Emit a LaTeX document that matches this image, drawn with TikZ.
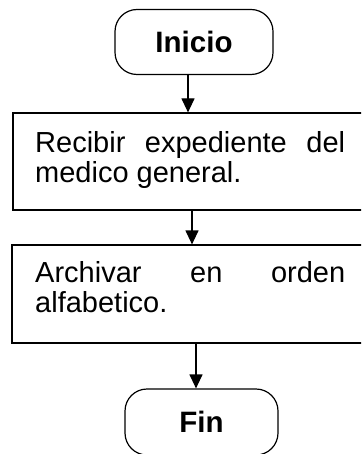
\documentclass[tikz,border=0pt]{standalone}
\usepackage{fontspec}
\setmainfont{Liberation Sans}
\usetikzlibrary{arrows.meta}
\hyphenpenalty=10000
\exhyphenpenalty=10000
\tolerance=10000
\begin{document}
\begin{tikzpicture}[x=1pt,y=-1pt,
  term/.style={draw=black, line width=1.2pt, rounded corners=22pt, minimum width=158pt, minimum height=65pt, inner sep=0pt, font=\bfseries\fontsize{29.5}{30}\selectfont},
  procbox/.style={draw=black, line width=1.2pt, inner sep=0pt},
  bodytxt/.style={inner sep=0pt, text width=310pt, align=justify, anchor=base west, font=\fontsize{29}{30}\selectfont},
  arr/.style={line width=1.2pt, -{Triangle[length=14pt,width=13pt]}}]
\useasboundingbox (0,0) rectangle (361,454);
\clip (0,0) rectangle (361,454);
\node[term] (inicio) at (194,42) {Inicio};
\node[procbox, minimum width=354pt, minimum height=97pt] (b1) at (190,161.5) {};
\node[bodytxt] (t1) at (35,153) {Recibir expediente del medico general.};
\node[procbox, minimum width=355pt, minimum height=98pt] (b2) at (189.5,294) {};
\node[bodytxt] (t2) at (35,282) {Archivar en orden alfabetico.};
\node[term, minimum width=153pt, minimum height=66pt] (fin) at (201.5,422) {Fin};
\coordinate (x1) at (188,0);
\coordinate (x2) at (192,0);
\coordinate (x3) at (196,0);
\draw[arr] (inicio.south -| x1) -- (b1.north -| x1);
\draw[arr] (b1.south -| x2) -- (b2.north -| x2);
\draw[arr] (b2.south -| x3) -- (fin.north -| x3);
\end{tikzpicture}
\end{document}
